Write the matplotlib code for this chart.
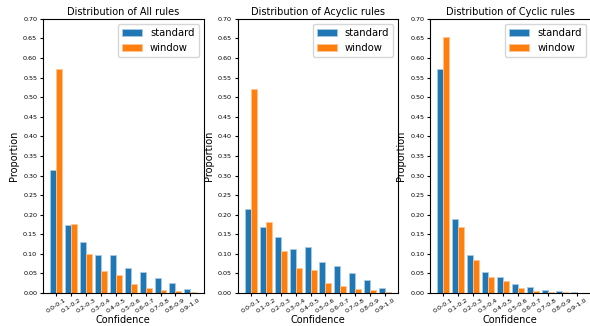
import numpy as np
import matplotlib.pyplot as plt

# Datos
bins = ['0.0-0.1', '0.1-0.2', '0.2-0.3', '0.3-0.4', '0.4-0.5',
        '0.5-0.6', '0.6-0.7', '0.7-0.8', '0.8-0.9', '0.9-1.0']

all_standard = [0.313, 0.173, 0.130, 0.097, 0.097, 0.064, 0.054, 0.039, 0.026, 0.010]
all_window = [0.571, 0.177, 0.099, 0.056, 0.047, 0.022, 0.013, 0.008, 0.005, 0.003]

acyclic_standard = [0.215, 0.169, 0.143, 0.113, 0.118, 0.080, 0.068, 0.050, 0.034, 0.013]
acyclic_window = [0.520, 0.182, 0.108, 0.065, 0.059, 0.026, 0.018, 0.011, 0.009, 0.004]

cyclic_standard = [0.573, 0.188, 0.096, 0.054, 0.040, 0.022, 0.015, 0.009, 0.005, 0.003]
cyclic_window = [0.653, 0.168, 0.084, 0.042, 0.030, 0.013, 0.006, 0.003, 0.002, 0.001]

titles = ['All', 'Acyclic', 'Cyclic']
data = [(all_standard, all_window), (acyclic_standard, acyclic_window),
        (cyclic_standard, cyclic_window)]

# Gráficas
fig = plt.figure(figsize=(5.9, 3.26), dpi=100)
lefts = [0.073, 0.403, 0.729]
x = np.arange(len(bins))
w = 0.4

for left, name, (std, win) in zip(lefts, titles, data):
    ax = fig.add_axes([left, 0.101, 0.272, 0.841])
    ax.bar(x - w / 2, std, w, color='#1f77b4', edgecolor='#a9cbe6', linewidth=0.6, label='standard')
    ax.bar(x + w / 2, win, w, color='#ff7f0e', edgecolor='#ffc48f', linewidth=0.6, label='window')
    ax.set_ylim(0, 0.7)
    ax.set_yticks(np.arange(0, 0.701, 0.05))
    ax.set_xticks(x)
    ax.set_xticklabels(bins, rotation=33, fontsize=4.6)
    ax.tick_params(axis='y', labelsize=4.6, length=2.2, pad=2)
    ax.tick_params(axis='x', length=2.2, pad=1)
    ax.set_title('Distribution of %s rules' % name, fontsize=7, pad=3)
    ax.set_xlabel('Confidence', fontsize=7, labelpad=1)
    ax.set_ylabel('Proportion', fontsize=7, labelpad=3)
    ax.legend(fontsize=7.2, loc='upper right')

fig.savefig('out.png', dpi=100)
